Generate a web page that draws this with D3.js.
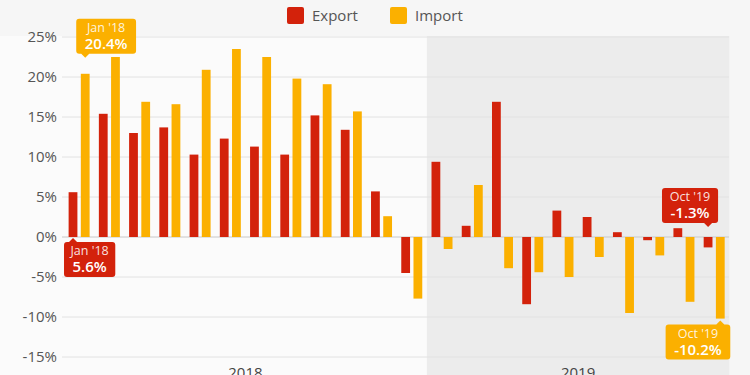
<!DOCTYPE html>
<html lang="en">
<head>
  <meta charset="UTF-8">
  <title>Export and import growth</title>
  <style>
    body {
      margin: 0;
      padding: 0;
      background-color: #f6f6f6;
      font-family: 'Open Sans', Arial, sans-serif;
    }
    svg { display: block; }
  </style>
</head>
<body>

<svg width="750" height="375"></svg>

<script src="https://d3js.org/d3.v7.min.js"></script>
<script>
  const width = 750, height = 375;

  // data (% change year on year)
  const months = ["Jan '18", "Feb '18", "Mar '18", "Apr '18", "May '18", "Jun '18",
    "Jul '18", "Aug '18", "Sep '18", "Oct '18", "Nov '18", "Dec '18",
    "Jan '19", "Feb '19", "Mar '19", "Apr '19", "May '19", "Jun '19",
    "Jul '19", "Aug '19", "Sep '19", "Oct '19"];
  const exportVals = [5.6, 15.4, 13.0, 13.7, 10.3, 12.3, 11.3, 10.3, 15.2, 13.4, 5.7, -4.5,
    9.4, 1.4, 16.9, -8.4, 3.3, 2.5, 0.6, -0.4, 1.1, -1.3];
  const importVals = [20.4, 22.5, 16.9, 16.6, 20.9, 23.5, 22.5, 19.8, 19.1, 15.7, 2.6, -7.7,
    -1.5, 6.5, -3.9, -4.4, -5.0, -2.5, -9.5, -2.3, -8.1, -10.2];
  const series = ["Export", "Import"];
  const colors = ["#d3220b", "#fbb000"];
  const yTicks = [-15, -10, -5, 0, 5, 10, 15, 20, 25];
  const years = ["2018", "2019"];

  const svg = d3.select("svg");

  const x = d3.scaleBand().domain(months).range([64, 729.3]).padding(0);
  const inner = d3.scaleBand().domain(series).range([0, 21]).paddingInner(0.28);
  const innerOff = (x.bandwidth() - 21) / 2;
  const y = d3.scaleLinear().domain([-15, 25]).range([357, 37]);

  // plain hyphen for negatives, like the original
  const pct = v => v.toFixed(1) + "%";

  // backgrounds
  svg.append("rect").attr("x", 0).attr("y", 36).attr("width", 729).attr("height", height - 36)
    .attr("fill", "#fbfbfb");
  svg.append("rect")
    .attr("x", x("Jan '19")).attr("y", 36)
    .attr("width", x.range()[1] - x("Jan '19")).attr("height", height - 36)
    .attr("fill", "#ececec");

  // grid
  svg.append("g").selectAll("line")
    .data(yTicks)
    .join("line")
    .attr("x1", 62).attr("x2", 729)
    .attr("y1", d => y(d)).attr("y2", d => y(d))
    .attr("stroke", d => d === 0 ? "#c8c8c8" : "#e2e2e2")
    .attr("stroke-width", 1);

  // y labels
  svg.append("g").selectAll("text")
    .data(yTicks)
    .join("text")
    .attr("x", 57).attr("y", d => y(d))
    .attr("dy", "0.36em")
    .attr("text-anchor", "end")
    .attr("font-size", 15)
    .attr("fill", "#555")
    .text(d => d + "%");

  // year labels (cut by the bottom edge, as in the original)
  svg.append("text").attr("x", (x("Jan '18") + x("Jan '19")) / 2).attr("y", 378)
    .attr("text-anchor", "middle").attr("font-size", 15).attr("fill", "#444").text(years[0]);
  svg.append("text").attr("x", (x("Jan '19") + x.range()[1]) / 2).attr("y", 378)
    .attr("text-anchor", "middle").attr("font-size", 15).attr("fill", "#444").text(years[1]);

  // bars
  const rows = months.map((m, i) => ({ month: m, vals: [exportVals[i], importVals[i]] }));
  const groups = svg.append("g").selectAll("g")
    .data(rows)
    .join("g")
    .attr("transform", d => `translate(${x(d.month) + innerOff},0)`);

  groups.selectAll("rect")
    .data(d => d.vals.map((v, k) => ({ key: series[k], v, k })))
    .join("rect")
    .attr("x", d => inner(d.key))
    .attr("width", inner.bandwidth())
    .attr("y", d => y(Math.max(0, d.v)))
    .attr("height", d => Math.abs(y(d.v) - y(0)))
    .attr("fill", d => colors[d.k]);

  // legend
  const legend = svg.append("g");
  const legendX = [287, 390];
  series.forEach((s, k) => {
    legend.append("rect").attr("x", legendX[k]).attr("y", 7).attr("width", 17).attr("height", 17)
      .attr("rx", 2).attr("fill", colors[k]);
    legend.append("text").attr("x", legendX[k] + 25).attr("y", 21)
      .attr("font-size", 15).attr("fill", "#555").text(s);
  });

  // annotations
  function annotate(monthIdx, k, place, align) {
    const v = k === 0 ? exportVals[monthIdx] : importVals[monthIdx];
    const m = months[monthIdx];
    const ax = x(m) + innerOff + inner(series[k]) + inner.bandwidth() / 2;
    const g = svg.append("g");
    const valText = g.append("text")
      .attr("text-anchor", "middle")
      .attr("font-size", 15).attr("font-weight", 600).attr("fill", "#fff")
      .text(pct(v));
    const w = valText.node().getBBox().width + 17;
    const h = 35;
    let tipY, boxTop;
    if (place === "above") {
      tipY = (v >= 0 ? y(v) : y(0)) - (v >= 0 ? 16 : 10);
      boxTop = tipY - 4 - h;
    } else {
      tipY = (v >= 0 ? y(0) : y(v)) + (v >= 0 ? 1 : 2);
      boxTop = tipY + 4;
    }
    const boxLeft = align === "left" ? ax - 9 : ax + 10 - w;
    const r = 3;
    const p = d3.path();
    p.moveTo(boxLeft + r, boxTop);
    if (place === "below") {
      p.lineTo(ax - 4, boxTop); p.lineTo(ax, tipY); p.lineTo(ax + 4, boxTop);
    }
    p.lineTo(boxLeft + w - r, boxTop);
    p.arcTo(boxLeft + w, boxTop, boxLeft + w, boxTop + r, r);
    p.lineTo(boxLeft + w, boxTop + h - r);
    p.arcTo(boxLeft + w, boxTop + h, boxLeft + w - r, boxTop + h, r);
    if (place === "above") {
      p.lineTo(ax + 4, boxTop + h); p.lineTo(ax, tipY); p.lineTo(ax - 4, boxTop + h);
    }
    p.lineTo(boxLeft + r, boxTop + h);
    p.arcTo(boxLeft, boxTop + h, boxLeft, boxTop + h - r, r);
    p.lineTo(boxLeft, boxTop + r);
    p.arcTo(boxLeft, boxTop, boxLeft + r, boxTop, r);
    p.closePath();
    g.insert("path", "text").attr("d", p.toString()).attr("fill", colors[k]);
    const cx = boxLeft + w / 2;
    valText.attr("x", cx).attr("y", boxTop + 30);
    g.append("text").attr("x", cx).attr("y", boxTop + 13)
      .attr("text-anchor", "middle").attr("font-size", 12.5)
      .attr("fill", "rgba(255,255,255,0.88)").text(m);
  }

  annotate(0, 1, "above", "left");
  annotate(0, 0, "below", "left");
  annotate(21, 0, "above", "right");
  annotate(21, 1, "below", "right");
</script>

</body>
</html>
